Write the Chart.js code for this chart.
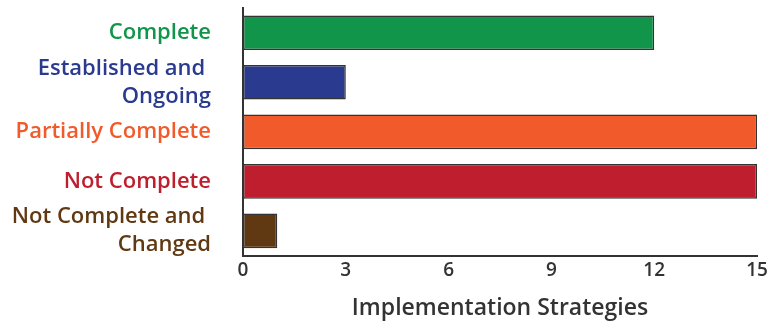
<!DOCTYPE html>
<html>
<head>
<meta charset="utf-8">
<script src="https://cdn.jsdelivr.net/npm/chart.js@4/dist/chart.umd.min.js"></script>
<style>
  html, body { margin: 0; padding: 0; background: #fff; }
  #wrap { width: 769px; height: 322px; }
</style>
</head>
<body>
<div id="wrap"><canvas id="c"></canvas></div>
<script>
// Status categories and how many implementation strategies fall in each
const categories = [
  ["Complete"],
  ["Established and ", "Ongoing"],
  ["Partially Complete"],
  ["Not Complete"],
  ["Not Complete and ", "Changed"]
];
const strategyCounts = [12, 3, 15, 15, 1];
const statusColors = ["#10954a", "#293a8f", "#f15a2b", "#be1e2d", "#603913"];
const xTicks = [0, 3, 6, 9, 12, 15];
const axisTitle = "Implementation Strategies";

const FONT = "'Open Sans', sans-serif";

new Chart(document.getElementById("c"), {
  type: "bar",
  data: {
    labels: categories,
    datasets: [{
      data: strategyCounts,
      backgroundColor: statusColors,
      borderColor: "#333333",
      borderWidth: 1.5,
      borderSkipped: false,
      categoryPercentage: 1,
      barPercentage: 0.7
    }]
  },
  options: {
    indexAxis: "y",
    responsive: true,
    maintainAspectRatio: false,
    animation: false,
    layout: { padding: { top: 8, right: 12, left: 0, bottom: 0 } },
    plugins: { legend: { display: false }, tooltip: { enabled: false } },
    scales: {
      x: {
        min: 0,
        max: 15,
        afterBuildTicks: s => { s.ticks = xTicks.map(v => ({ value: v })); },
        afterFit: s => { s.paddingLeft = 0; s.paddingRight = 0; },
        grid: { display: false, drawTicks: false },
        border: { display: true, color: "#333333", width: 2 },
        ticks: {
          color: "#333333",
          padding: 4,
          font: { family: FONT, size: 19, weight: 600 }
        },
        title: {
          display: true,
          text: axisTitle,
          color: "#333333",
          padding: { top: 8, bottom: 0 },
          font: { family: FONT, size: 23, weight: 600 }
        }
      },
      y: {
        afterFit: s => { s.paddingTop = 0; s.paddingBottom = 0; s.width = 243; },
        grid: { display: false, drawTicks: false },
        border: { display: true, color: "#333333", width: 2 },
        ticks: {
          padding: 32,
          autoSkip: false,
          color: ctx => statusColors[ctx.index],
          font: { family: FONT, size: 22, weight: 600, lineHeight: 1.27 }
        }
      }
    }
  }
});
</script>
</body>
</html>
